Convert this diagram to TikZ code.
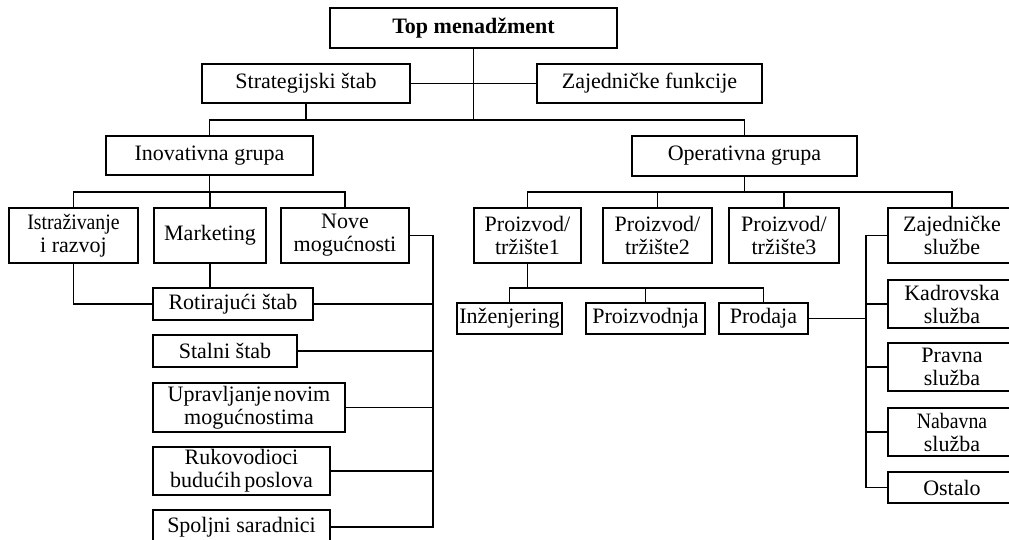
\documentclass[tikz,border=0pt]{standalone}
\usepackage{fontspec}
\setmainfont{Liberation Serif}
\begin{document}
\begin{tikzpicture}[x=1pt,y=-1pt,
  orgbox/.style={draw, line width=1.1pt, inner sep=0pt, align=center,
    font=\fontsize{22}{23}\selectfont},
  link/.style={line width=1.1pt}]
\useasboundingbox (0,0) rectangle (1009,540);
\clip (0,0) rectangle (1009,540);

% top level
\node[orgbox, minimum width=287pt, minimum height=40pt] (top) at (473.5,28) {\textbf{Top menadžment}};
\node[orgbox, minimum width=208pt, minimum height=39pt] (strat) at (306,83.5) {Strategijski štab};
\node[orgbox, minimum width=225pt, minimum height=39pt] (zajf) at (649.5,83.5) {Zajedničke funkcije};

% groups
\node[orgbox, minimum width=207pt, minimum height=39pt] (inov) at (209.5,155.5) {Inovativna grupa};
\node[orgbox, minimum width=225pt, minimum height=40pt] (oper) at (744.5,156) {Operativna grupa};

% innovation group units
\node[orgbox, minimum width=129pt, minimum height=55pt] (istr) at (73.5,235.5) {\scalebox{0.9}[1]{Istraživanje}\\i razvoj};
\node[orgbox, minimum width=112pt, minimum height=55pt] (mark) at (210,235.5) {Marketing};
\node[orgbox, minimum width=128pt, minimum height=55pt] (nove) at (345,235.5) {Nove\\mogućnosti};

\node[orgbox, minimum width=160pt, minimum height=32pt] (rot) at (233,304) {Rotirajući štab};
\node[orgbox, minimum width=144pt, minimum height=32pt] (stal) at (225,351) {Stalni štab};
\node[orgbox, minimum width=192pt, minimum height=49pt] (upr) at (249,407.5) {Upravljanje\hspace{0.12em}novim\\mogućnostima};
\node[orgbox, minimum width=177pt, minimum height=48pt] (ruk) at (241.5,471) {Rukovodioci\\budućih\hspace{0.15em}poslova};
\node[orgbox, minimum width=177pt, minimum height=34pt] (spol) at (241.5,527) {Spoljni saradnici};

% operative group units
\node[orgbox, minimum width=107pt, minimum height=55pt] (p1) at (527.5,235.5) {Proizvod/\\tržište1};
\node[orgbox, minimum width=109pt, minimum height=55pt] (p2) at (657.5,235.5) {Proizvod/\\tržište2};
\node[orgbox, minimum width=110pt, minimum height=55pt] (p3) at (784,235.5) {Proizvod/\\tržište3};
\node[orgbox, minimum width=128pt, minimum height=55pt] (zs) at (952,235.5) {Zajedničke\\službe};

\node[orgbox, minimum width=105pt, minimum height=31pt] (inz) at (509.5,318.5) {Inženjering};
\node[orgbox, minimum width=119pt, minimum height=31pt] (proizv) at (645.5,318.5) {Proizvodnja};
\node[orgbox, minimum width=89pt, minimum height=31pt] (prod) at (763.5,318.5) {Prodaja};

\node[orgbox, minimum width=128pt, minimum height=48pt] (kad) at (952,304) {Kadrovska\\služba};
\node[orgbox, minimum width=128pt, minimum height=48pt] (prav) at (952,367) {Pravna\\služba};
\node[orgbox, minimum width=128pt, minimum height=48pt] (nab) at (952,432) {\scalebox{0.9}[1]{Nabavna}\\služba};
\node[orgbox, minimum width=128pt, minimum height=31pt] (ost) at (952,487.5) {Ostalo};

% junction points of the bus lines
\coordinate (hub) at (473.5,120);
\coordinate (ib) at (209.5,192);
\coordinate (ob) at (744.5,192);
\coordinate (pb) at (527.5,288);
\coordinate (lbx) at (433,0);
\coordinate (rbx) at (866,0);

% top level connectors
\draw[link] (top.south) -- (hub);
\draw[link] (strat.east) -- (zajf.west);
\draw[link] (strat.south) -- (strat.south |- hub);
\draw[link] (inov.north) -- (inov.north |- hub) -- (oper.north |- hub) -- (oper.north);

% innovation group connectors
\draw[link] (inov.south) -- (ib);
\draw[link] (istr.north) -- (istr.north |- ib) -- (nove.north |- ib) -- (nove.north);
\draw[link] (mark.north) -- (mark.north |- ib);
\draw[link] (istr.south) |- (rot.west);
\draw[link] (mark.south) -- (mark.south |- rot.north);
\draw[link] (nove.east) -| (lbx |- spol.east) -- (spol.east);
\draw[link] (rot.east) -- (rot.east -| lbx);
\draw[link] (stal.east) -- (stal.east -| lbx);
\draw[link] (upr.east) -- (upr.east -| lbx);
\draw[link] (ruk.east) -- (ruk.east -| lbx);

% operative group connectors
\draw[link] (oper.south) -- (ob);
\draw[link] (p1.north) -- (p1.north |- ob) -- (zs.north |- ob) -- (zs.north);
\draw[link] (p2.north) -- (p2.north |- ob);
\draw[link] (p3.north) -- (p3.north |- ob);
\draw[link] (p1.south) -- (pb);
\draw[link] (inz.north) -- (inz.north |- pb) -- (prod.north |- pb) -- (prod.north);
\draw[link] (proizv.north) -- (proizv.north |- pb);
\draw[link] (zs.west) -| (rbx |- ost.west) -- (ost.west);
\draw[link] (kad.west) -- (kad.west -| rbx);
\draw[link] (prav.west) -- (prav.west -| rbx);
\draw[link] (nab.west) -- (nab.west -| rbx);
\draw[link] (prod.east) -- (prod.east -| rbx);
\end{tikzpicture}
\end{document}
